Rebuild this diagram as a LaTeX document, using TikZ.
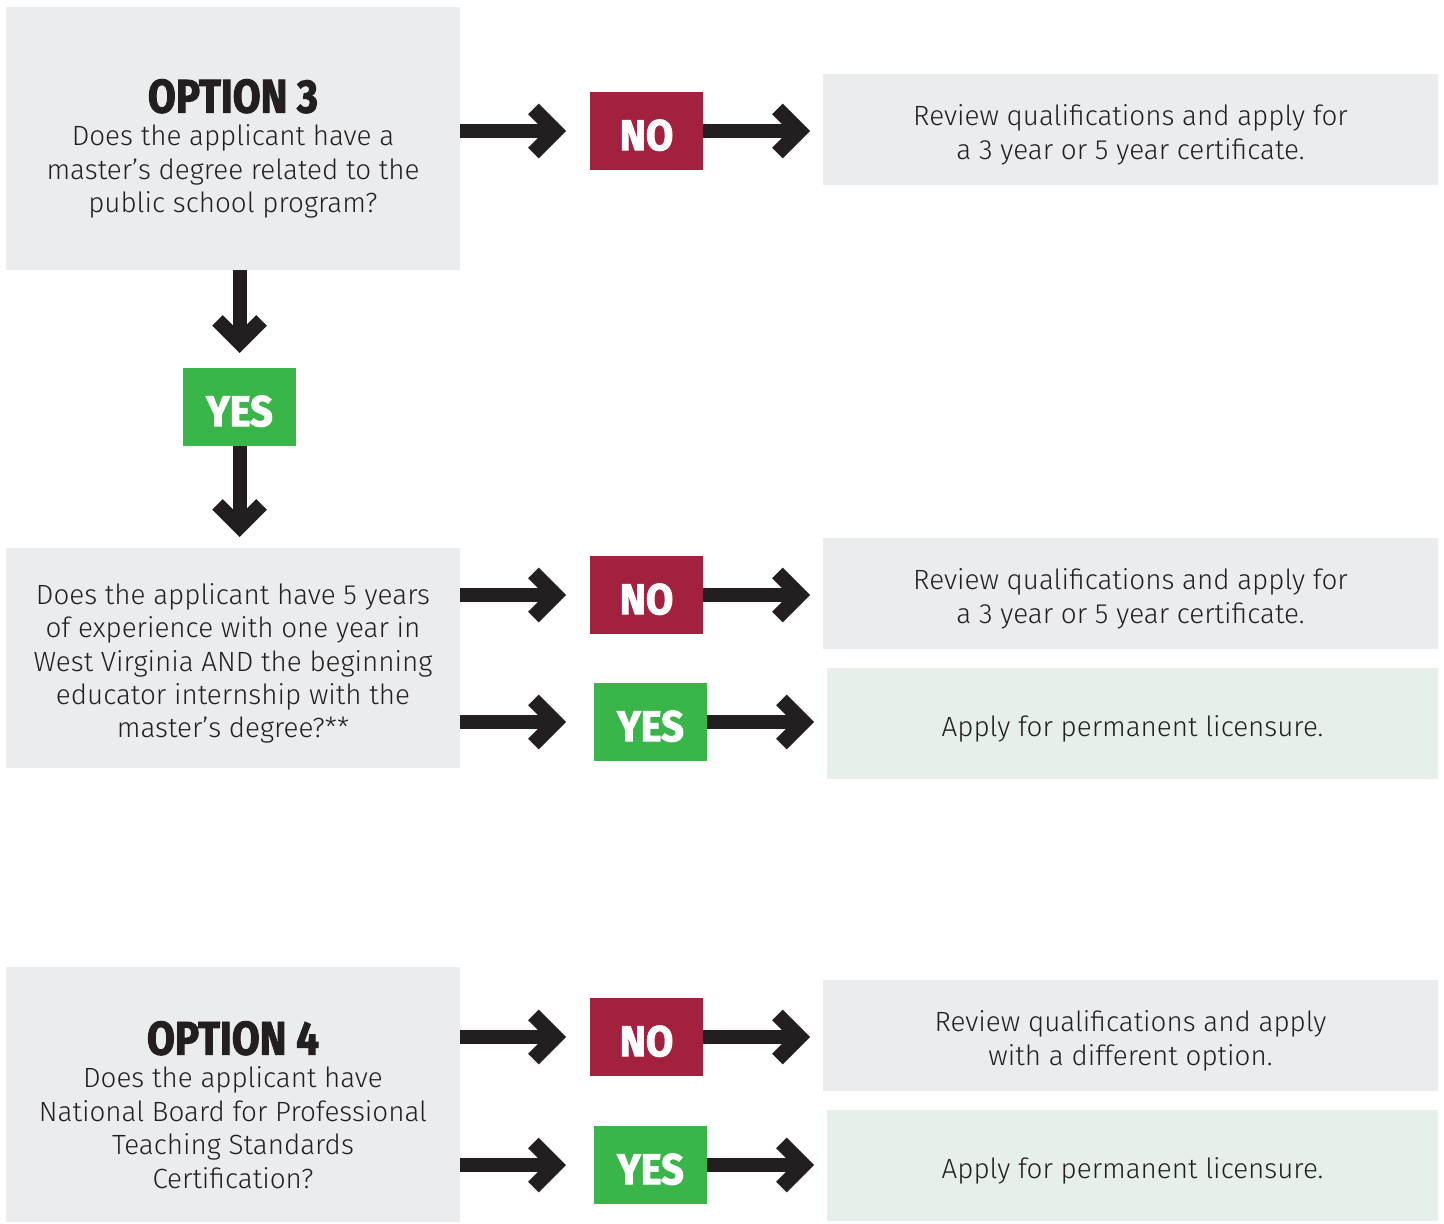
\documentclass[tikz,border=0pt]{standalone}
\usepackage{fontspec}
\setmainfont{Fira Sans}[UprightFont=* Light]
\newfontfamily\headfont{Fira Sans}[FakeStretch=0.86,FakeBold=2]
\newfontfamily\tagfont{Fira Sans}[FakeStretch=0.92,FakeBold=2.4]
\usetikzlibrary{arrows.meta}
\definecolor{ink}{HTML}{231F20}
\definecolor{boxgray}{HTML}{EBECEE}
\definecolor{boxgreen}{HTML}{E6F0E8}
\definecolor{nored}{HTML}{A3203E}
\definecolor{yesgreen}{HTML}{39B54A}
\newcommand\toplift[1][16pt]{\rule{0pt}{#1}}
\newcommand\optionhead[1]{\toplift[27pt]{\headfont\bfseries\fontsize{23.5}{23.5}\selectfont #1}}

\begin{document}
\begin{tikzpicture}[x=0.5pt,y=-0.5pt,
        qbox/.style={fill=boxgray, anchor=north west, inner sep=0pt, outer sep=0pt,
            minimum width=227pt, align=center, text=ink,
            font=\fontsize{13.9}{16.7}\selectfont},
        tagno/.style={fill=nored, anchor=north west, inner sep=0pt, outer sep=0pt,
            minimum width=56.5pt, minimum height=39pt, text=white,
            font=\tagfont\bfseries\fontsize{21.5}{21.5}\selectfont,
            execute at begin node={\rule{0pt}{19.5pt}}},
        tagyes/.style={tagno, fill=yesgreen},
        rbox/.style={qbox, minimum width=307.5pt, minimum height=55.5pt},
        rgreen/.style={rbox, fill=boxgreen, minimum width=305.5pt},
        flow/.style={draw=ink, line width=7pt,
            -{Straight Barb[length=11pt, width=22pt, line width=7.5pt, line join=miter, line cap=butt]}}]

    \useasboundingbox (0,0) rectangle (1444,1224);

    \node[qbox, minimum height=131.5pt] (q3) at (6,7)
        {\optionhead{OPTION 3}\\[0pt]
         Does the applicant have a\\ master’s degree related to the\\ public school program?};
    \node[tagno] (no1) at (590,92) {NO};
    \node[rbox] (r1) at (823,74) {\toplift Review qualifications and apply for\\ a 3 year or 5 year certificate.};

    \node[tagyes] (yes1) at (183,368) {YES};

    \node[qbox, minimum height=110pt] (q5) at (6,548)
        {\toplift Does the applicant have 5 years\\ of experience with one year in\\ West Virginia AND the beginning\\ educator internship with the\\ master’s degree?**};
    \node[tagno] (no2) at (590,556) {NO};
    \node[rbox] (r2) at (823,538) {\toplift Review qualifications and apply for\\ a 3 year or 5 year certificate.};
    \node[tagyes] (yes2) at (594,683) {YES};
    \node[rgreen] (r3) at (827,668) {\toplift Apply for permanent licensure.};

    \node[qbox, minimum height=127.5pt] (q4) at (6,967)
        {\optionhead{OPTION 4}\\[0pt]
         Does the applicant have\\ National Board for Professional\\ Teaching Standards\\ Certification?};
    \node[tagno] (no3) at (590,998) {NO};
    \node[rbox] (r4) at (823,980) {\toplift Review qualifications and apply\\ with a different option.};
    \node[tagyes] (yes3) at (594,1126) {YES};
    \node[rgreen] (r5) at (827,1110) {\toplift Apply for permanent licensure.};

    \draw[flow, shorten >=12pt] (q3.east |- no1) -- (no1);
    \draw[flow, shorten >=6.5pt] (no1) -- (r1.west |- no1);
    \draw[flow, shorten >=7.5pt] (q3.south -| yes1) -- (yes1);
    \draw[flow, shorten >=5.5pt] (yes1) -- (q5.north -| yes1);

    \draw[flow, shorten >=12pt] (q5.east |- no2) -- (no2);
    \draw[flow, shorten >=6.5pt] (no2) -- (r2.west |- no2);
    \draw[flow, shorten >=14pt] (q5.east |- yes2) -- (yes2);
    \draw[flow, shorten >=6.5pt] (yes2) -- (r3.west |- yes2);

    \draw[flow, shorten >=12pt] (q4.east |- no3) -- (no3);
    \draw[flow, shorten >=6.5pt] (no3) -- (r4.west |- no3);
    \draw[flow, shorten >=14pt] (q4.east |- yes3) -- (yes3);
    \draw[flow, shorten >=6.5pt] (yes3) -- (r5.west |- yes3);

\end{tikzpicture}
\end{document}
